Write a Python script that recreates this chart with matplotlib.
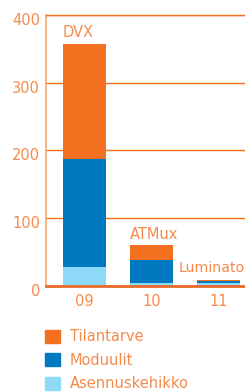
import matplotlib
matplotlib.use("Agg")
import matplotlib.pyplot as plt
from matplotlib.patches import Patch
from matplotlib.transforms import ScaledTranslation

years = ["09", "10", "11"]
products = ["DVX", "ATMux", "Luminato"]
asennuskehikko = [28, 5, 4]
moduulit = [159, 33, 3]
tilantarve = [170, 22, 1.5]
series_names = ["Tilantarve", "Moduulit", "Asennuskehikko"]
yticks = [0, 100, 200, 300, 400]

c_orange = "#F37021"
c_blue = "#0079C1"
c_light = "#8ED8F8"
c_text = "#F58A4B"
c_spine = "#F7A570"

fig = plt.figure(figsize=(2.45, 3.92), dpi=100)
ax = fig.add_axes([0.1865, 0.2704, 0.8135, 0.6921])

x = list(range(len(years)))
w = 0.64
b1 = asennuskehikko
b2 = [a + m for a, m in zip(asennuskehikko, moduulit)]
ax.bar(x, asennuskehikko, width=w, color=c_light, zorder=3)
ax.bar(x, moduulit, width=w, bottom=b1, color=c_blue, zorder=3)
ax.bar(x, tilantarve, width=w, bottom=b2, color=c_orange, zorder=3)

ax.set_xlim(-0.58, 2.4)
ax.set_ylim(0, 400)
ax.set_yticks(yticks)
ax.set_xticks(x)
ax.set_xticklabels(years)
ax.yaxis.grid(True, color=c_orange, linewidth=1.0, zorder=1)
ax.set_axisbelow(True)
ax.axhline(0, color="#E8692A", linewidth=2.0, zorder=4, clip_on=False)

for s in ["right", "bottom"]:
    ax.spines[s].set_visible(False)
ax.spines["top"].set_color(c_orange)
ax.spines["top"].set_linewidth(1.0)
ax.spines["left"].set_color(c_spine)
ax.spines["left"].set_linewidth(1.2)

ax.tick_params(axis="both", length=0, colors=c_text, labelsize=10.5)
ax.tick_params(axis="y", pad=4)
ax.tick_params(axis="x", pad=6)
off = ScaledTranslation(0, -4 / 100, fig.dpi_scale_trans)
for lbl in ax.get_yticklabels():
    lbl.set_transform(lbl.get_transform() + off)

tops = [a + m + t for a, m, t in zip(asennuskehikko, moduulit, tilantarve)]
label_dx = [-0.32, -0.32, -0.59]
label_dy = [5, 4.3, 6.2]
label_fs = [10.5, 10.5, 10.2]
for i, (p, tp) in enumerate(zip(products, tops)):
    ax.annotate(p, xy=(i + label_dx[i], tp), xytext=(0, label_dy[i]),
                textcoords="offset points", ha="left", va="baseline",
                color=c_text, fontsize=label_fs[i], annotation_clip=False)

handles = [Patch(color=c_orange), Patch(color=c_blue), Patch(color=c_light)]
fig.legend(handles, series_names, loc="upper left",
           bbox_to_anchor=(0.16, 0.175), frameon=False, fontsize=10.5,
           labelcolor=c_text, handlelength=1.0, handleheight=1.0,
           handletextpad=0.7, labelspacing=0.58, borderaxespad=0)

fig.savefig("out.png", dpi=100)
